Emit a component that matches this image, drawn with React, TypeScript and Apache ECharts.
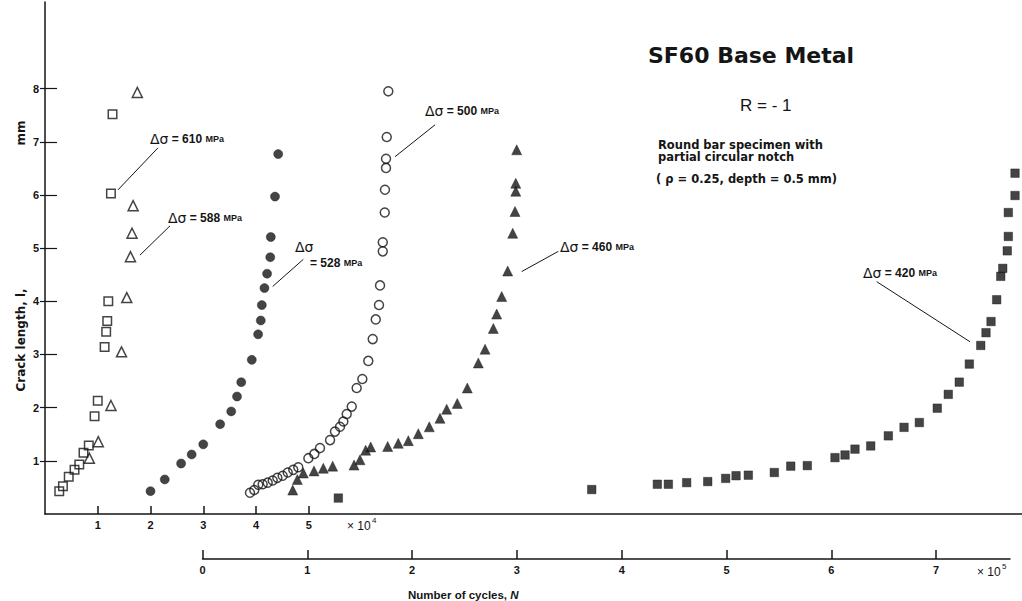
import React, { useEffect, useRef } from 'react';
import * as echarts from 'echarts';

const INK = '#151515';
const SANS = '"Liberation Sans", Arial, sans-serif';
const DJV = '"DejaVu Sans", sans-serif';

// Upper scale: N in units of 10^4 cycles; crack length l in mm
const s610: [number, number][] = [
  [0.27, 0.43], [0.34, 0.52], [0.45, 0.7], [0.56, 0.83], [0.65, 0.93], [0.73, 1.15],
  [0.83, 1.29], [0.94, 1.84], [1.0, 2.13], [1.13, 3.14], [1.16, 3.43], [1.18, 3.63],
  [1.2, 4.0], [1.25, 6.03], [1.28, 7.52],
];
const s588: [number, number][] = [
  [0.84, 1.05], [1.01, 1.36], [1.25, 2.04], [1.45, 3.05], [1.55, 4.07], [1.62, 4.84],
  [1.65, 5.28], [1.67, 5.8], [1.75, 7.93],
];
const s528: [number, number][] = [
  [2.0, 0.43], [2.27, 0.65], [2.58, 0.95], [2.78, 1.12], [3.0, 1.31], [3.32, 1.69],
  [3.53, 1.93], [3.64, 2.21], [3.72, 2.48], [3.92, 2.9], [4.04, 3.38], [4.09, 3.64],
  [4.11, 3.93], [4.16, 4.25], [4.21, 4.52], [4.27, 4.83], [4.28, 5.21], [4.36, 5.97],
  [4.42, 6.77],
];
// Lower scale: N in units of 10^5 cycles
const s500: [number, number][] = [
  [0.453, 0.4], [0.494, 0.45], [0.532, 0.55], [0.574, 0.56], [0.622, 0.59], [0.67, 0.63],
  [0.714, 0.68], [0.765, 0.72], [0.813, 0.78], [0.866, 0.83], [0.914, 0.88], [1.01, 1.05],
  [1.067, 1.13], [1.121, 1.24], [1.217, 1.39], [1.264, 1.55], [1.312, 1.64], [1.344, 1.74],
  [1.376, 1.88], [1.424, 2.02], [1.471, 2.37], [1.525, 2.54], [1.582, 2.88], [1.624, 3.29],
  [1.653, 3.66], [1.684, 3.93], [1.694, 4.3], [1.72, 4.94], [1.72, 5.11], [1.739, 5.67],
  [1.741, 6.1], [1.751, 6.51], [1.751, 6.68], [1.758, 7.09], [1.773, 7.95],
];
const s460: [number, number][] = [
  [0.861, 0.45], [0.905, 0.65], [0.962, 0.77], [1.064, 0.81], [1.153, 0.86], [1.242, 0.9],
  [1.446, 0.92], [1.503, 1.02], [1.557, 1.2], [1.605, 1.26], [1.767, 1.27], [1.868, 1.33],
  [1.964, 1.38], [2.059, 1.51], [2.164, 1.64], [2.266, 1.8], [2.33, 1.97], [2.431, 2.08],
  [2.527, 2.37], [2.632, 2.84], [2.696, 3.1], [2.775, 3.49], [2.807, 3.76], [2.855, 4.09],
  [2.912, 4.57], [2.96, 5.28], [2.982, 5.69], [2.989, 6.07], [2.989, 6.22], [2.998, 6.85],
];
const s420: [number, number][] = [
  [1.296, 0.3], [3.714, 0.46], [4.34, 0.56], [4.445, 0.56], [4.62, 0.59], [4.821, 0.61],
  [4.992, 0.67], [5.091, 0.72], [5.208, 0.73], [5.456, 0.78], [5.613, 0.9], [5.771, 0.91],
  [6.035, 1.06], [6.131, 1.11], [6.226, 1.22], [6.376, 1.28], [6.544, 1.47], [6.694, 1.63],
  [6.84, 1.72], [7.011, 1.99], [7.116, 2.25], [7.221, 2.48], [7.317, 2.82], [7.426, 3.17],
  [7.476, 3.41], [7.524, 3.62], [7.578, 4.03], [7.617, 4.47], [7.636, 4.62], [7.679, 4.95],
  [7.689, 5.22], [7.689, 5.67], [7.753, 5.99], [7.753, 6.41],
];

const upperTicks = [1, 2, 3, 4, 5];
const lowerTicks = [0, 1, 2, 3, 4, 5, 6, 7];
const yTicks = [1, 2, 3, 4, 5, 6, 7, 8];

// arrow annotations: [from, to] in data coordinates of their series
const arrow610 = [[2.142, 6.887], [1.384, 6.097]];
const arrow588 = [[2.37, 5.42], [1.801, 4.87]];
const arrow528 = [[4.897, 4.79], [4.316, 4.28]];
const arrow500 = [[2.219, 7.32], [1.837, 6.72]];
const arrow460 = [[3.395, 4.94], [3.046, 4.56]];
const arrow420 = [[6.433, 4.37], [7.323, 3.24]];

const Y_MAX = 9.63;

function arrowLine(a: number[][]) {
  return {
    silent: true,
    symbol: ['none', 'arrow'],
    symbolSize: [0, 7],
    label: { show: false },
    lineStyle: { color: INK, width: 1, type: 'solid' },
    emphasis: { disabled: true },
    data: [[{ coord: a[0] }, { coord: a[1] }]],
  };
}

function scatter(name: string, data: [number, number][], xi: number, yi: number, symbol: string, size: number, filled: boolean, arrow: number[][]) {
  return {
    name,
    type: 'scatter',
    xAxisIndex: xi,
    yAxisIndex: yi,
    data,
    symbol,
    symbolSize: size,
    clip: false,
    silent: true,
    itemStyle: filled
      ? { color: INK, borderColor: INK, borderWidth: 0.5 }
      : { color: 'rgba(255,255,255,0)', borderColor: INK, borderWidth: 1.5 },
    markLine: arrowLine(arrow),
  };
}

function dsText(x: number, y: number, value: string) {
  return {
    type: 'text',
    x,
    y,
    silent: true,
    style: {
      text: `{d|Δσ}{e| = ${value} }{m|MPa}`,
      textAlign: 'left',
      textVerticalAlign: 'middle',
      align: 'left',
      verticalAlign: 'middle',
      fill: INK,
      rich: {
        d: { fontSize: 14, fontFamily: DJV, fill: INK },
        e: { fontSize: 12, fontWeight: 'bold', fontFamily: SANS, fill: INK },
        m: { fontSize: 9, fontWeight: 'bold', fontFamily: SANS, fill: INK },
      },
    },
  };
}

function plainText(x: number, y: number, text: string, size: number, opts: any = {}) {
  return {
    type: 'text',
    x,
    y,
    rotation: opts.rotation || 0,
    silent: true,
    style: {
      text,
      fontSize: size,
      fontWeight: opts.weight || 'bold',
      fontFamily: opts.family || SANS,
      fill: INK,
      textAlign: opts.align || 'left',
      textVerticalAlign: 'middle',
      align: opts.align || 'left',
      verticalAlign: 'middle',
    },
  };
}

const axisLabelStyle = { color: INK, fontSize: 11, fontWeight: 'bold', fontFamily: SANS };

const option: any = {
  animation: false,
  backgroundColor: '#ffffff',
  grid: [
    { left: 45, top: 2, width: 977, height: 512, outerBoundsMode: 'none', containLabel: false },
    { left: 202.5, top: 2, width: 807.5, height: 512, outerBoundsMode: 'none', containLabel: false },
  ],
  xAxis: [
    {
      type: 'value', gridIndex: 0, min: 0, max: 18.52, position: 'bottom',
      axisLine: { show: true, onZero: false, lineStyle: { color: INK, width: 1.5 } },
      axisTick: { show: true, inside: true, length: 8, customValues: upperTicks, lineStyle: { color: INK, width: 1.5 } },
      axisLabel: { show: true, margin: 5, customValues: upperTicks, ...axisLabelStyle },
      splitLine: { show: false },
    },
    {
      type: 'value', gridIndex: 1, min: 0, max: 7.705, position: 'bottom', offset: 45,
      axisLine: { show: true, onZero: false, lineStyle: { color: INK, width: 1.5 } },
      axisTick: { show: true, inside: true, length: 9, customValues: lowerTicks, lineStyle: { color: INK, width: 1.5 } },
      axisLabel: { show: true, margin: 5, customValues: lowerTicks, ...axisLabelStyle },
      splitLine: { show: false },
    },
  ],
  yAxis: [
    {
      type: 'value', gridIndex: 0, min: 0, max: Y_MAX, position: 'left',
      axisLine: { show: true, onZero: false, lineStyle: { color: INK, width: 1.5 } },
      axisTick: { show: true, inside: true, length: 12, customValues: yTicks, lineStyle: { color: INK, width: 1.2 } },
      axisLabel: { show: true, margin: 6, customValues: yTicks, ...axisLabelStyle },
      splitLine: { show: false },
    },
    {
      type: 'value', gridIndex: 0, min: 0, max: Y_MAX, position: 'right',
      axisLine: { show: false },
      axisTick: { show: true, inside: true, length: 5, customValues: yTicks, lineStyle: { color: INK, width: 1.2 } },
      axisLabel: { show: false },
      splitLine: { show: false },
    },
    {
      type: 'value', gridIndex: 1, min: 0, max: Y_MAX, show: false,
      splitLine: { show: false },
    },
  ],
  series: [
    scatter('Δσ = 610 MPa', s610, 0, 0, 'rect', 8.5, false, arrow610),
    scatter('Δσ = 588 MPa', s588, 0, 0, 'triangle', 10, false, arrow588),
    scatter('Δσ = 528 MPa', s528, 0, 0, 'circle', 9, true, arrow528),
    scatter('Δσ = 500 MPa', s500, 1, 2, 'circle', 9, false, arrow500),
    scatter('Δσ = 460 MPa', s460, 1, 2, 'triangle', 10, true, arrow460),
    scatter('Δσ = 420 MPa', s420, 1, 2, 'rect', 8.5, true, arrow420),
  ],
  graphic: [
    plainText(648, 55, 'SF60 Base Metal', 22, { family: DJV }),
    plainText(740, 105, 'R = - 1', 17, { weight: 'normal' }),
    plainText(658, 145, 'Round bar specimen with', 11.5, { family: DJV }),
    plainText(658, 157, 'partial circular notch', 11.5, { family: DJV }),
    plainText(656, 179, '( ρ = 0.25, depth = 0.5 mm)', 11.5, { family: DJV }),
    dsText(150, 139, '610'),
    dsText(168, 218, '588'),
    plainText(295, 247, 'Δσ', 14, { weight: 'normal', family: DJV }),
    {
      type: 'text', x: 310, y: 263, silent: true,
      style: {
        text: '{e|= 528 }{m|MPa}', textAlign: 'left', textVerticalAlign: 'middle', align: 'left', verticalAlign: 'middle', fill: INK,
        rich: {
          e: { fontSize: 12, fontWeight: 'bold', fontFamily: SANS, fill: INK },
          m: { fontSize: 9, fontWeight: 'bold', fontFamily: SANS, fill: INK },
        },
      },
    },
    dsText(425, 111, '500'),
    dsText(560, 247, '460'),
    dsText(863, 273, '420'),
    plainText(347, 526, '× 10', 12, { weight: 'normal' }),
    plainText(372, 520, '4', 8, { weight: 'normal' }),
    plainText(977, 572, '× 10', 12, { weight: 'normal' }),
    plainText(1002, 566, '5', 8, { weight: 'normal' }),
    {
      type: 'text', x: 408, y: 595, silent: true,
      style: {
        text: '{a|Number of cycles, }{b|N}', textAlign: 'left', textVerticalAlign: 'middle', align: 'left', verticalAlign: 'middle', fill: INK,
        rich: {
          a: { fontSize: 11.5, fontWeight: 'bold', fontFamily: SANS, fill: INK },
          b: { fontSize: 11.5, fontWeight: 'bold', fontStyle: 'italic', fontFamily: SANS, fill: INK },
        },
      },
    },
    plainText(21, 340, 'Crack length, l,', 12, { family: DJV, align: 'center', rotation: Math.PI / 2 }),
    plainText(21, 133, 'mm', 12, { family: DJV, align: 'center', rotation: Math.PI / 2 }),
  ],
};

export default function App() {
  const ref = useRef<HTMLDivElement>(null);
  useEffect(() => {
    if (!ref.current) return;
    const chart = echarts.init(ref.current, null, { renderer: 'svg' });
    chart.setOption(option);
    return () => chart.dispose();
  }, []);
  return (
    <div
      ref={ref}
      style={{ position: 'fixed', left: 0, top: 0, width: 1022, height: 601, background: '#ffffff' }}
    />
  );
}
